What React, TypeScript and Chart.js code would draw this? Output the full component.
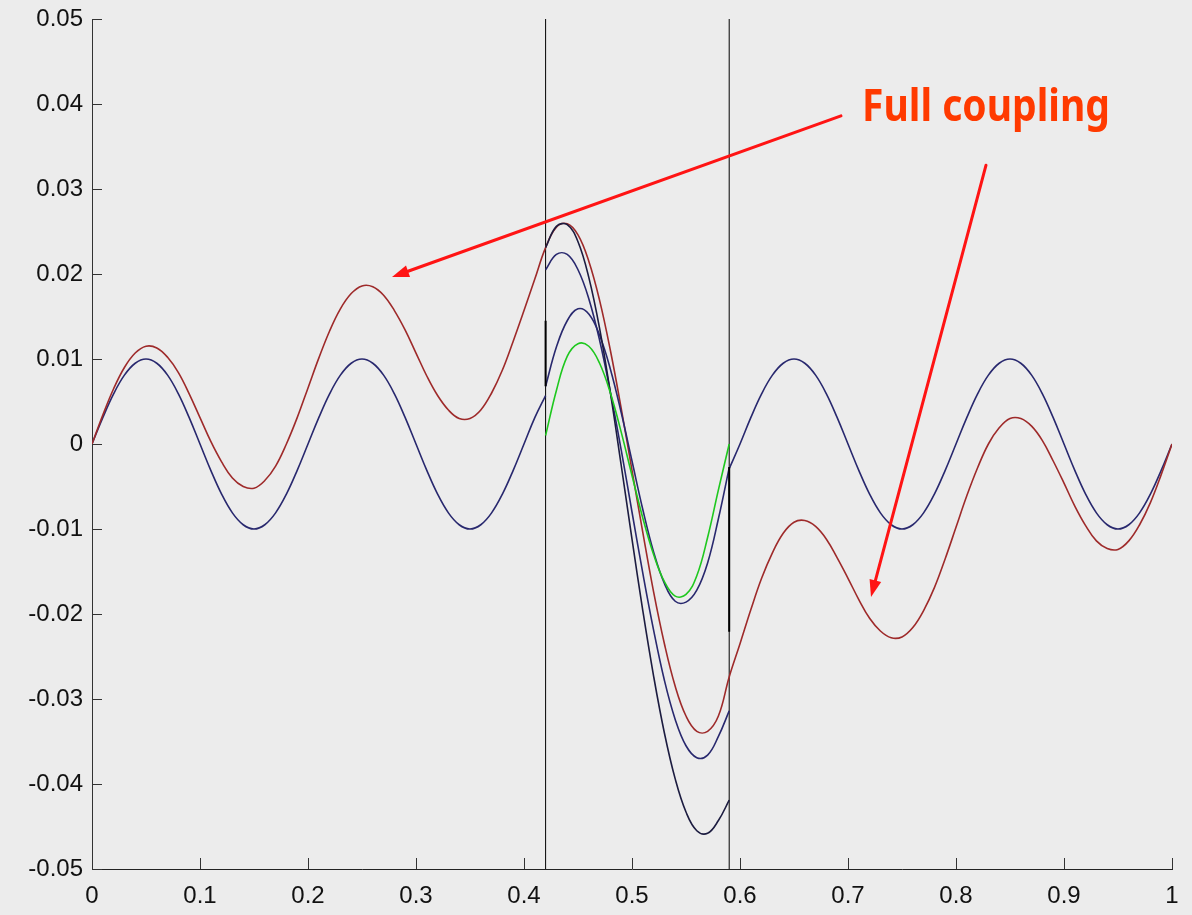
import React, { useEffect, useRef } from "react";
import { Chart, registerables } from "chart.js";

Chart.register(...registerables);

// x sampling grid (0 .. 1, step 0.01)
const xGrid = [
  0, 0.01, 0.02, 0.03, 0.04, 0.05, 0.06, 0.07, 0.08, 0.09,
  0.1, 0.11, 0.12, 0.13, 0.14, 0.15, 0.16, 0.17, 0.18, 0.19,
  0.2, 0.21, 0.22, 0.23, 0.24, 0.25, 0.26, 0.27, 0.28, 0.29,
  0.3, 0.31, 0.32, 0.33, 0.34, 0.35, 0.36, 0.37, 0.38, 0.39,
  0.4, 0.41, 0.42, 0.43, 0.44, 0.45, 0.46, 0.47, 0.48, 0.49,
  0.5, 0.51, 0.52, 0.53, 0.54, 0.55, 0.56, 0.57, 0.58, 0.59,
  0.6, 0.61, 0.62, 0.63, 0.64, 0.65, 0.66, 0.67, 0.68, 0.69,
  0.7, 0.71, 0.72, 0.73, 0.74, 0.75, 0.76, 0.77, 0.78, 0.79,
  0.8, 0.81, 0.82, 0.83, 0.84, 0.85, 0.86, 0.87, 0.88, 0.89,
  0.9, 0.91, 0.92, 0.93, 0.94, 0.95, 0.96, 0.97, 0.98, 0.99,
  1,
];
const xLeft = xGrid.slice(0, 43); // 0 .. 0.42
const xMid = xGrid.slice(42, 60); // 0.42 .. 0.59
const xRight = xGrid.slice(59); // 0.59 .. 1

// uncoupled (blue) solution outside the subdomain
const blueLeft = [
  0, 0.0031, 0.0059, 0.0081, 0.0095, 0.01, 0.0095, 0.0081, 0.0059, 0.0031,
  0, -0.0031, -0.0059, -0.0081, -0.0095, -0.01, -0.0095, -0.0081, -0.0059, -0.0031,
  0, 0.0031, 0.0059, 0.0081, 0.0095, 0.01, 0.0095, 0.0081, 0.0059, 0.0031,
  0, -0.0031, -0.0059, -0.0081, -0.0095, -0.01, -0.0095, -0.0081, -0.0059, -0.0031,
  0, 0.0031, 0.0057,
];
const blueRight = [
  -0.0029, 0, 0.0031, 0.0059, 0.0081, 0.0095, 0.01, 0.0095, 0.0081, 0.0059,
  0.0031, 0, -0.0031, -0.0059, -0.0081, -0.0095, -0.01, -0.0095, -0.0081, -0.0059,
  -0.0031, 0, 0.0031, 0.0059, 0.0081, 0.0095, 0.01, 0.0095, 0.0081, 0.0059,
  0.0031, 0, -0.0031, -0.0059, -0.0081, -0.0095, -0.01, -0.0095, -0.0081, -0.0059,
  -0.0031, 0,
];

// full coupling (red) over the whole domain
const redFull = [
  0, 0.0034, 0.0065, 0.009, 0.0107, 0.0115, 0.0113, 0.0102, 0.0084, 0.0059,
  0.0031, 0.0003, -0.0021, -0.004, -0.005, -0.0052, -0.0043, -0.0026, 0.0, 0.0031,
  0.0066, 0.0101, 0.0133, 0.0159, 0.0177, 0.0186, 0.0185, 0.0175, 0.0157, 0.0134,
  0.0107, 0.008, 0.0057, 0.004, 0.003, 0.003, 0.004, 0.006, 0.0087, 0.0121,
  0.0157, 0.0194,
  0.0231, 0.0255, 0.0259, 0.0246, 0.0215, 0.0169, 0.011, 0.0042, -0.0031, -0.0104,
  -0.0174, -0.0235, -0.0285, -0.032, -0.0338, -0.0338, -0.032,
  -0.0274, -0.0235, -0.0195, -0.0158, -0.0128, -0.0105, -0.0092, -0.009, -0.0097, -0.0112,
  -0.0134, -0.0158, -0.0183, -0.0205, -0.022, -0.0228, -0.0227, -0.0216, -0.0196, -0.0169,
  -0.0135, -0.0098, -0.0061, -0.0028, 0.0, 0.0019, 0.003, 0.003, 0.0021, 0.0004,
  -0.002, -0.0046, -0.0073, -0.0096, -0.0114, -0.0123, -0.0124, -0.0114, -0.0095, -0.0069,
  -0.0036, 0,
];

// subdomain iterates (0.42 .. 0.59)
const subA = [
  0.0231, 0.0256, 0.0258, 0.0238, 0.0196, 0.0136, 0.006, -0.0025, -0.0112, -0.0196,
  -0.0273, -0.034, -0.0394, -0.0433, -0.0455, -0.0458, -0.0443, -0.0419,
];
const subB = [
  0.0205, 0.0223, 0.0223, 0.0205, 0.0171, 0.0122, 0.0061, -0.0007, -0.008, -0.0152,
  -0.0219, -0.0278, -0.0324, -0.0355, -0.0369, -0.0366, -0.0344, -0.0314,
];
const subC = [
  0.0068, 0.0114, 0.0145, 0.0159, 0.0153, 0.0128, 0.0088, 0.0037, -0.002, -0.0077,
  -0.0127, -0.0164, -0.0185, -0.0186, -0.0172, -0.014, -0.0088, -0.0028,
];
const subGreen = [
  0.001, 0.0063, 0.0103, 0.0118, 0.0115, 0.0095, 0.006, 0.0014, -0.0037, -0.0087,
  -0.013, -0.0162, -0.0179, -0.0177, -0.0155, -0.011, -0.0054, 0.0,
];

// interface jumps (black) and interface positions
const jumpLeftX = [0.42, 0.42];
const jumpLeftY = [0.0145, 0.0068];
const jumpRightX = [0.59, 0.59];
const jumpRightY = [-0.0027, -0.0221];
const interfaceX = [0.42, 0.59];
const yRange = [-0.05, 0.05];

const annotationLabel = "Full coupling";

const pts = (xs: number[], ys: number[]) => ys.map((y, i) => ({ x: xs[i], y }));
const fmt = (v: number | string) => String(parseFloat(Number(v).toFixed(2)));

const NAVY = "#28286e";
const RED = "#9e2a2a";
const GREEN = "#1ec81e";
const TICK_FONT = { family: "'Liberation Sans', Arial, sans-serif", size: 24 };

const bgPlugin = {
  id: "bgFill",
  beforeDraw(chart: any) {
    const { ctx, width, height } = chart;
    ctx.save();
    ctx.fillStyle = "#ececec";
    ctx.fillRect(0, 0, width, height);
    ctx.restore();
  },
};

const tickPlugin = {
  id: "inwardTicks",
  afterDatasetsDraw(chart: any) {
    const { ctx, chartArea, scales } = chart;
    const xs = scales.x;
    const ys = scales.y;
    ctx.save();
    ctx.strokeStyle = "#333";
    ctx.lineWidth = 1;
    ys.ticks.forEach((t: any) => {
      const py = Math.round(ys.getPixelForValue(t.value)) + 0.5;
      ctx.beginPath();
      ctx.moveTo(chartArea.left, py);
      ctx.lineTo(chartArea.left + 10, py);
      ctx.stroke();
    });
    xs.ticks.forEach((t: any) => {
      const px = Math.round(xs.getPixelForValue(t.value)) + 0.5;
      ctx.beginPath();
      ctx.moveTo(px, chartArea.bottom);
      ctx.lineTo(px, chartArea.bottom - 11);
      ctx.stroke();
    });
    ctx.restore();
  },
};

function drawArrow(ctx: CanvasRenderingContext2D, x1: number, y1: number, x2: number, y2: number) {
  const ang = Math.atan2(y2 - y1, x2 - x1);
  const len = 17;
  const hw = 6;
  const bx = x2 - len * Math.cos(ang);
  const by = y2 - len * Math.sin(ang);
  ctx.beginPath();
  ctx.moveTo(x1, y1);
  ctx.lineTo(bx, by);
  ctx.stroke();
  ctx.beginPath();
  ctx.moveTo(x2, y2);
  ctx.lineTo(bx + hw * Math.sin(ang), by - hw * Math.cos(ang));
  ctx.lineTo(bx - hw * Math.sin(ang), by + hw * Math.cos(ang));
  ctx.closePath();
  ctx.fill();
}

const annotationPlugin = {
  id: "fullCoupling",
  afterDraw(chart: any) {
    const { ctx, scales } = chart;
    const X = (v: number) => scales.x.getPixelForValue(v);
    const Y = (v: number) => scales.y.getPixelForValue(v);
    ctx.save();
    ctx.strokeStyle = "#ff1414";
    ctx.fillStyle = "#ff1414";
    ctx.lineWidth = 3;
    ctx.lineCap = "round";
    drawArrow(ctx, X(0.6935), Y(0.0386), X(0.2778), Y(0.01965));
    drawArrow(ctx, X(0.8278), Y(0.0328), X(0.7213), Y(-0.018));
    // label
    ctx.font = "bold 44px 'Noto Sans', 'DejaVu Sans', sans-serif";
    ctx.fillStyle = "#ff3a00";
    ctx.textBaseline = "alphabetic";
    ctx.textAlign = "left";
    const left = X(0.713);
    const right = X(0.9426);
    const base = Y(0.038);
    const w = ctx.measureText(annotationLabel).width;
    const sx = (right - left) / w;
    ctx.translate(left, base);
    ctx.scale(sx, 1);
    ctx.fillText(annotationLabel, 0, 0);
    ctx.restore();
  },
};

export default function App() {
  const ref = useRef<HTMLCanvasElement>(null);
  useEffect(() => {
    document.body.style.margin = "0";
    const lineBase = {
      pointRadius: 0,
      borderWidth: 1.6,
      fill: false,
      tension: 0.4,
    };
    const straight = { pointRadius: 0, borderWidth: 1.2, fill: false, tension: 0 };
    const chart = new Chart(ref.current!, {
      type: "line",
      data: {
        datasets: [
          { ...straight, data: pts([interfaceX[0], interfaceX[0]], yRange), borderColor: "#000", borderWidth: 1, order: 20 },
          { ...straight, data: pts([interfaceX[1], interfaceX[1]], yRange), borderColor: "#000", borderWidth: 1, order: 20 },
          { ...lineBase, data: pts(xLeft, blueLeft), borderColor: NAVY, order: 15 },
          { ...lineBase, data: pts(xRight, blueRight), borderColor: NAVY, order: 15 },
          { ...lineBase, data: pts(xGrid, redFull), borderColor: RED, order: 12 },
          { ...lineBase, data: pts(xMid, subC), borderColor: NAVY, order: 10 },
          { ...lineBase, data: pts(xMid, subB), borderColor: NAVY, order: 10 },
          { ...lineBase, data: pts(xMid, subA), borderColor: "#1c1c40", order: 9 },
          { ...lineBase, data: pts(xMid, subGreen), borderColor: GREEN, order: 8 },
          { ...straight, data: pts(jumpLeftX, jumpLeftY), borderColor: "#000", borderWidth: 2, order: 5 },
          { ...straight, data: pts(jumpRightX, jumpRightY), borderColor: "#000", borderWidth: 2, order: 5 },
        ],
      },
      options: {
        responsive: false,
        animation: false,
        events: [],
        layout: { padding: { top: 19, right: 20, left: 0, bottom: 0 } },
        plugins: { legend: { display: false }, tooltip: { enabled: false } },
        scales: {
          x: {
            type: "linear",
            min: 0,
            max: 1,
            ticks: {
              stepSize: 0.1,
              autoSkip: false,
              maxRotation: 0,
              callback: (v: any) => fmt(v),
              color: "#111",
              padding: 13,
              font: TICK_FONT,
            },
            grid: { drawOnChartArea: false, drawTicks: false },
            border: { display: true, color: "#222", width: 1 },
            afterFit: (s: any) => {
              s.height = 46;
              s.paddingLeft = 0;
              s.paddingRight = 0;
            },
          },
          y: {
            type: "linear",
            min: -0.05,
            max: 0.05,
            ticks: {
              stepSize: 0.01,
              autoSkip: false,
              callback: (v: any) => fmt(v),
              color: "#111",
              padding: 9,
              font: TICK_FONT,
            },
            grid: { drawOnChartArea: false, drawTicks: false },
            border: { display: true, color: "#333", width: 1 },
            afterFit: (s: any) => {
              s.width = 92;
              s.paddingTop = 0;
              s.paddingBottom = 0;
            },
          },
        },
      },
      plugins: [bgPlugin, tickPlugin, annotationPlugin],
    });
    return () => chart.destroy();
  }, []);
  return (
    <div style={{ width: 1192, height: 915 }}>
      <canvas ref={ref} width={1192} height={915} style={{ display: "block" }} />
    </div>
  );
}
